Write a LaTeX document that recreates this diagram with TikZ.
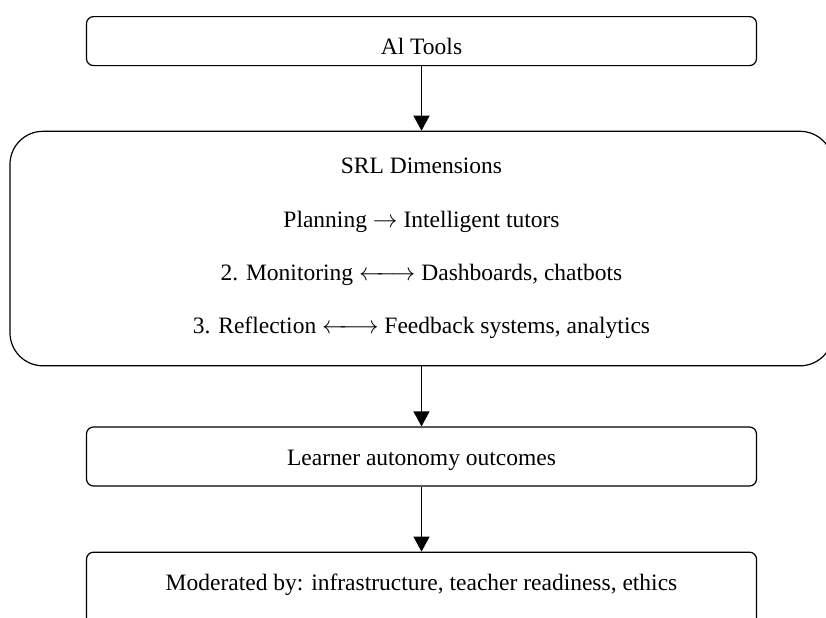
\documentclass[tikz,border=0pt]{standalone}
\usepackage{fontspec}
\setmainfont{Liberation Serif}
\usetikzlibrary{arrows.meta,positioning}

\newcommand{\biarrow}{$\leftarrow\!\!\longrightarrow$}

\begin{document}
\begin{tikzpicture}[font=\fontsize{23.5bp}{28bp}\selectfont, node distance=64.5bp,
  box/.style={draw, line width=1.2bp, rounded corners=7bp, minimum width=670bp, align=center, inner xsep=3bp, inner ysep=0pt, text height=38bp},
  arr/.style={-{Triangle[length=15bp, width=16bp]}, line width=1.3bp}]
  \useasboundingbox (0,0) rectangle (826bp,-618bp);
  \node[box, text depth=11bp, anchor=north] (tools) at (421.5bp,-16bp) {Al Tools};
  % the big box keeps its text block centred
  \node[draw, line width=1.2bp, below=of tools, minimum width=823bp, minimum height=234.5bp, rounded corners=33bp, align=center, inner ysep=0pt, font=\fontsize{23.5bp}{53.3bp}\selectfont] (srl) {SRL Dimensions\\ Planning $\rightarrow$ Intelligent tutors\\ 2. Monitoring \biarrow{} Dashboards, chatbots\\ 3. Reflection \biarrow{} Feedback systems, analytics};
  \node[box, below=60bp of srl, text depth=21bp] (learner) {Learner autonomy outcomes};
  \node[box, below=65bp of learner, text depth=80bp] (moder) {Moderated by: infrastructure, teacher readiness, ethics};
  \draw[arr] (tools) -- (srl); \draw[arr] (srl) -- (learner); \draw[arr] (learner) -- (moder);
\end{tikzpicture}
\end{document}
